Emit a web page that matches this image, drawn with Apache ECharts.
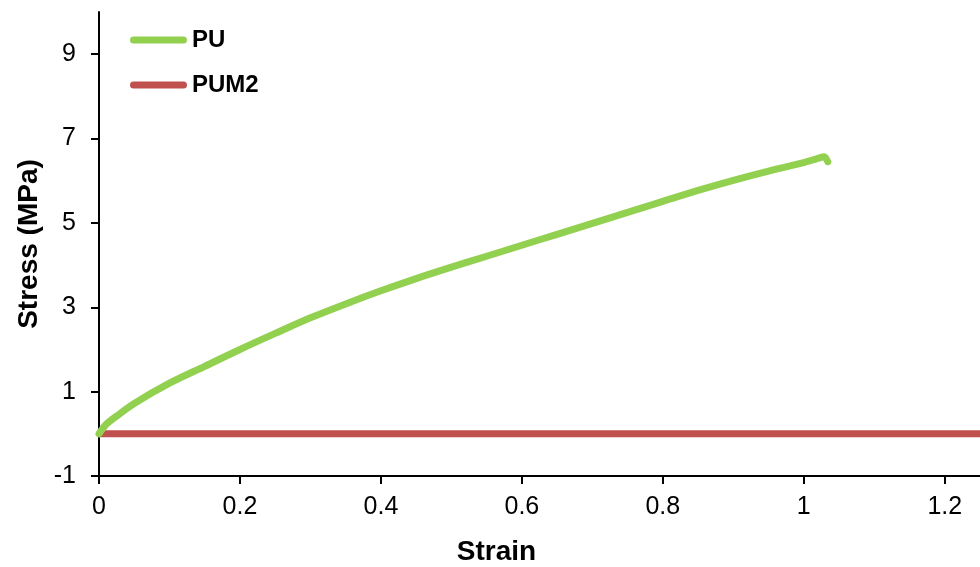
<!DOCTYPE html>
<html>
<head>
<meta charset="utf-8">
<script src="https://cdn.jsdelivr.net/npm/echarts@6/dist/echarts.min.js"></script>
<style>
html,body{margin:0;padding:0;background:#fff;}
#chart{width:980px;height:567px;}
</style>
</head>
<body>
<div id="chart"></div>
<script>
const seriesNames = ['PU', 'PUM2'];
const puStrain = [0.0, 0.01, 0.025, 0.05, 0.1, 0.15, 0.2, 0.25, 0.3, 0.35, 0.4, 0.45, 0.5, 0.55, 0.6, 0.65, 0.7, 0.75, 0.8, 0.85, 0.9, 0.95, 1.0, 1.02, 1.029, 1.034];
const puStress = [0.0, 0.22, 0.42, 0.72, 1.20, 1.60, 2.00, 2.38, 2.75, 3.08, 3.39, 3.68, 3.95, 4.21, 4.47, 4.73, 4.99, 5.25, 5.51, 5.77, 6.01, 6.23, 6.43, 6.53, 6.57, 6.45];
const pum2Strain = [0.0, 0.68, 1.25];
const pum2Stress = [0.0, 0.0, 0.0];
const xTicks = [0, 0.2, 0.4, 0.6, 0.8, 1, 1.2];
const yTicks = [-1, 1, 3, 5, 7, 9];

const FONT = "'Liberation Sans', Arial, sans-serif";
const chart = echarts.init(document.getElementById('chart'), null, {renderer: 'canvas'});
const zip = (xs, ys) => xs.map((x, i) => [x, ys[i]]);

chart.setOption({
  backgroundColor: '#ffffff',
  animation: false,
  grid: {left: 99, right: 0, top: 12, bottom: 91, containLabel: false, outerBoundsMode: 'none'},
  legend: {
    left: 130, top: 28, orient: 'vertical', itemGap: 21,
    itemWidth: 57, itemHeight: 7, padding: 0,
    data: seriesNames.map(n => ({name: n, icon: 'path://M3.5,0 L53.5,0 A3.5,3.5 0 0 1 53.5,7 L3.5,7 A3.5,3.5 0 0 1 3.5,0 Z'})),
    textStyle: {fontFamily: FONT, fontSize: 24, fontWeight: 'bold', color: '#000'}
  },
  xAxis: {
    type: 'value', min: 0, max: 1.25,
    name: 'Strain', nameLocation: 'middle', nameGap: 62,
    nameTextStyle: {fontFamily: FONT, fontSize: 28, fontWeight: 'bold', color: '#000', padding: [0, 86, 0, 0]},
    axisLine: {show: true, onZero: false, lineStyle: {color: '#000', width: 2}},
    axisTick: {show: true, length: 8, inside: false, customValues: xTicks, lineStyle: {color: '#000', width: 2}},
    axisLabel: {customValues: xTicks, fontFamily: FONT, fontSize: 25, color: '#000', margin: 19,
      formatter: v => String(Math.round(v * 10) / 10)},
    splitLine: {show: false}
  },
  yAxis: {
    type: 'value', min: -1, max: 10,
    name: 'Stress (MPa)', nameLocation: 'middle', nameGap: 56, nameRotate: 90,
    nameTextStyle: {fontFamily: FONT, fontSize: 28, fontWeight: 'bold', color: '#000'},
    axisLine: {show: true, onZero: false, lineStyle: {color: '#000', width: 2}},
    axisTick: {show: true, length: 8, inside: false, customValues: yTicks, lineStyle: {color: '#000', width: 2}},
    axisLabel: {customValues: yTicks, fontFamily: FONT, fontSize: 25, color: '#000', margin: 23},
    splitLine: {show: false}
  },
  series: [
    {
      name: seriesNames[0], type: 'line', data: zip(puStrain, puStress),
      smooth: 0.3, showSymbol: false, symbol: 'none', z: 3,
      lineStyle: {color: '#92D050', width: 7, cap: 'round', join: 'round'},
      itemStyle: {color: '#92D050'}
    },
    {
      name: seriesNames[1], type: 'line', data: zip(pum2Strain, pum2Stress),
      showSymbol: false, symbol: 'none', z: 2,
      lineStyle: {color: '#C0504D', width: 7, cap: 'butt'},
      itemStyle: {color: '#C0504D'}
    }
  ]
});
</script>
</body>
</html>
